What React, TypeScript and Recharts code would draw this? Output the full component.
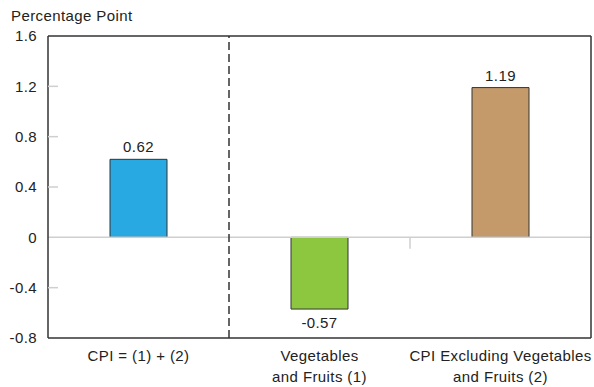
import React from "react";
import { BarChart, Bar, XAxis, YAxis, ReferenceLine, LabelList, Cell } from "recharts";

const categories = ["CPI = (1) + (2)", "Vegetables\nand Fruits (1)", "CPI Excluding Vegetables\nand Fruits (2)"];
const values = [0.62, -0.57, 1.19];
const colors = ["#29a9e1", "#8dc63f", "#c49a6b"];
const yTicks = [-0.8, -0.4, 0, 0.4, 0.8, 1.2, 1.6];
const yTickMarks = [-0.4, 0.4, 0.8, 1.2];

const data = categories.map((c, i) => ({ name: c, value: values[i] }));

const FONT = "'Liberation Sans', Arial, sans-serif";
const FS = 15;
const LS = 0.4;
const TEXT = "#222";
const DARK = "#333";
const GRAY = "#cfcfcf";

const YTick = (props: any) => {
  const { x, y, payload } = props;
  const v = payload.value;
  const hasMark = yTickMarks.includes(v);
  return (
    <g>
      {hasMark && <line x1={x + 12} x2={x + 22} y1={y} y2={y} stroke={GRAY} strokeWidth={1.5} />}
      <text x={x + 1} y={y} dy={5.3} textAnchor="end" fontSize={FS} letterSpacing={LS} fontFamily={FONT} fill={TEXT}>
        {v === 0 ? "0" : v.toFixed(1)}
      </text>
    </g>
  );
};

const XTick = (props: any) => {
  const { x, y, payload } = props;
  const lines = String(payload.value).split("\n");
  return (
    <g>
      {lines.map((l, i) => (
        <text key={i} x={x} y={y} dy={14.5 + i * 21} textAnchor="middle" fontSize={FS} letterSpacing={LS} fontFamily={FONT} fill={TEXT}>
          {l}
        </text>
      ))}
    </g>
  );
};

const ValueLabel = (props: any) => {
  const { x, y, width, height, value } = props;
  const top = Math.min(y, y + height);
  const bottom = Math.max(y, y + height);
  const cx = x + width / 2;
  const ty = value >= 0 ? top - 7 : bottom + 19;
  return (
    <text x={cx} y={ty} textAnchor="middle" fontSize={FS} letterSpacing={LS} fontFamily={FONT} fill={TEXT}>
      {value.toFixed(2)}
    </text>
  );
};

export default function App() {
  return (
    <div style={{ position: "absolute", left: 0, top: 0, width: 594, height: 387, background: "#fff" }}>
      <div style={{ position: "absolute", left: 11, top: 7, fontSize: FS, letterSpacing: LS, fontFamily: FONT, color: TEXT, lineHeight: "17px", whiteSpace: "nowrap" }}>
        Percentage Point
      </div>
      <BarChart width={594} height={387} data={data} margin={{ top: 36, right: 3, bottom: 9, left: 0 }} barSize={57}>
        <XAxis
          dataKey="name"
          height={40}
          tick={<XTick />}
          tickLine={false}
          tickSize={0}
          tickMargin={8}
          axisLine={{ stroke: DARK, strokeWidth: 1.5 }}
          interval={0}
        />
        <YAxis
          width={48}
          domain={[-0.8, 1.6]}
          ticks={yTicks}
          type="number"
          tick={<YTick />}
          tickLine={false}
          tickSize={0}
          tickMargin={12}
          axisLine={{ stroke: DARK, strokeWidth: 1.5 }}
          interval={0}
        />
        <ReferenceLine y={0} stroke={GRAY} strokeWidth={1.5} />
        <ReferenceLine y={1.6} stroke={DARK} strokeWidth={1.5} />
        <ReferenceLine x={categories[2]} position="end" stroke={DARK} strokeWidth={1.5} />
        <ReferenceLine x={categories[0]} position="end" stroke={DARK} strokeWidth={1.5} strokeDasharray="8 4" />
        <ReferenceLine
          segment={[{ x: categories[1], y: 0 }, { x: categories[1], y: -0.09 }]}
          position="end"
          stroke={GRAY}
          strokeWidth={1.5}
        />
        <Bar dataKey="value" isAnimationActive={false} stroke={DARK} strokeWidth={1}>
          {data.map((d, i) => (
            <Cell key={i} fill={colors[i]} />
          ))}
          <LabelList dataKey="value" content={<ValueLabel />} />
        </Bar>
      </BarChart>
    </div>
  );
}
